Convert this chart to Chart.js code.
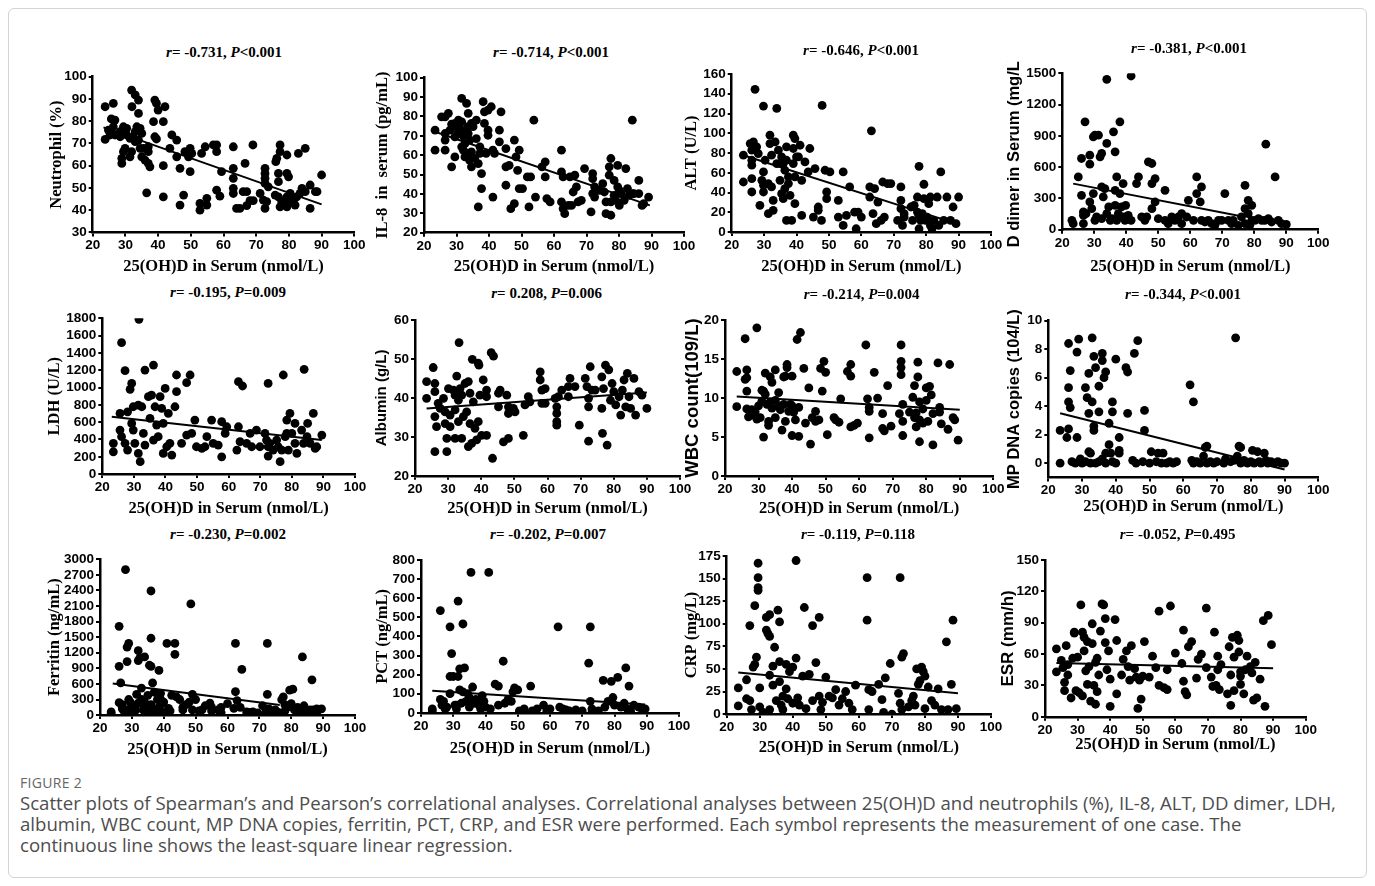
<!DOCTYPE html>
<html>
<head>
<meta charset="utf-8">
<script src="https://cdn.jsdelivr.net/npm/chart.js@4.4.0/dist/chart.umd.min.js"></script>
<style>
  body { margin: 0; background: #fff; width: 1375px; height: 886px; position: relative; overflow: hidden; }
  .frame { position: absolute; left: 8px; top: 8px; width: 1357px; height: 868px; border: 1px solid #d4d4d4; border-radius: 6px; }
  canvas { position: absolute; }
  .ttl { position: absolute; font: bold 15px "Liberation Serif", serif; color: #000; transform: translate(-50%, -50%); white-space: nowrap; }
  .figno { position: absolute; left: 20px; top: 773px; font: 14px "Open Sans", sans-serif; color: #666; letter-spacing: 0.3px; }
  .caption { position: absolute; left: 20px; top: 792px; font: 18.6px/21px "Open Sans", sans-serif; color: #4d4d4d; white-space: nowrap; }
</style>
</head>
<body>
<div class="frame"></div>
<div class="figno">FIGURE 2</div>
<div class="caption">Scatter plots of Spearman’s and Pearson’s correlational analyses. Correlational analyses between 25(OH)D and neutrophils (%), IL-8, ALT, DD dimer, LDH,<br>albumin, WBC count, MP DNA copies, ferritin, PCT, CRP, and ESR were performed. Each symbol represents the measurement of one case. The<br>continuous line shows the least-square linear regression.</div>
<script>
// shared x axis: 25(OH)D in serum
const xTicks = [20, 30, 40, 50, 60, 70, 80, 90, 100];
const xLabel = '25(OH)D in Serum (nmol/L)';

// ---- neutrophil (%) ----
const neutrophilTicks = [30, 40, 50, 60, 70, 80, 90, 100];
const neutrophilFit = [[23.3, 77.2], [90, 42.6]];
const neutrophilPts = [[23.8,86.5],[23.8,71.8],[26.3,88],[25.7,81],[26.8,80.5],[26.3,77.5],[24.8,76],[25.3,73.8],[26.8,73.8],[28.4,75.3],[29.4,77.5],[30.4,76.8],[28.4,73],[30.4,73.8],[31.4,72.3],[32.4,73],[33,75.3],[33.5,77.5],[34.5,76.8],[35,74.5],[33,70.8],[34,71.5],[28.9,63.3],[28.9,61],[29.9,67.8],[31.9,94],[33,91.8],[34,89.5],[32,86.5],[34,83.5],[31.9,66.3],[31.4,64],[34.5,67.8],[35.5,67.8],[35,64],[36,62.5],[37,61],[37.5,59.5],[37,66.3],[37,68.5],[29.4,66.3],[36.5,47.8],[39,89.5],[39.5,88],[40,85],[42.1,86.5],[38.6,79.8],[41.6,79.8],[39,73],[39.5,72],[41.6,60],[41.6,46],[44.2,73.8],[45.7,71.5],[43.6,67.8],[45.7,64],[46.7,58.8],[46.7,42.3],[47.8,46.8],[48.2,66.3],[49.3,64],[49.8,67.8],[50.3,65.5],[49.8,57.3],[52.8,43],[52.8,40],[54.9,42.3],[54.9,45.3],[53.3,65.5],[54.4,68.5],[56.9,69.3],[57.9,69.3],[57.9,66.3],[57.9,49],[58.9,46.3],[59.4,57.3],[63,68.5],[63,58.8],[63,54.3],[63,49.8],[63,47.5],[64,40.8],[65,40.8],[66,48.3],[67.1,48.3],[66.6,61],[67.1,42],[68.1,44.3],[69.1,44.3],[69,69.3],[72.7,58.8],[72.7,56.5],[72.7,54.3],[72.7,52],[71.2,47.5],[72.2,44.5],[73.2,43.8],[72.7,40.8],[73.7,50.5],[76,61.8],[76.3,63.3],[77.3,69.3],[77.3,66.3],[76.8,56.5],[76.8,52.8],[75.8,46.8],[76.8,46],[77.8,43.8],[77.3,41.5],[78.9,42.3],[79.4,64.8],[79.4,56.5],[79.9,55],[80.4,47.5],[79.4,46],[80.4,43.8],[79.4,41.5],[81.4,44.5],[82.4,46],[81.9,42.3],[83.4,47.5],[84,49.8],[85,48.3],[82.9,65.5],[85,67.8],[86.5,51.3],[86.5,40.8],[88.1,48.3],[88.6,48.3],[90,55.8]];

// ---- IL-8 (pg/mL) ----
const il8Ticks = [20, 30, 40, 50, 60, 70, 80, 90, 100];
const il8Fit = [[23.4, 72.1], [89.5, 34.1]];
const il8Pts = [[23.4,72.9],[23.4,62.6],[25.4,79.8],[26.5,79.8],[26.5,71.2],[26.5,67.8],[26.5,62.6],[27.5,81.6],[28,72.9],[28.5,54],[29.5,76.4],[30,74.7],[29.5,69.5],[29.5,59.1],[30.6,78.1],[31.6,89.3],[31.6,77.2],[31.6,72.9],[31.6,64.3],[32.6,66],[32.1,62.6],[32.6,59.1],[33.1,86.7],[33.6,81.6],[33.6,74.7],[33.6,71.2],[34.1,67.8],[34.6,76.4],[34.6,61.7],[34.6,54],[35.1,74.7],[35.6,58.3],[36.1,78.1],[36.1,68.6],[36.7,55.7],[36.7,33.3],[37.2,64.3],[37.2,60.9],[37.7,50.5],[37.7,42.8],[38.2,87.6],[38.6,82.4],[38.6,76.4],[39.1,60.9],[39.7,83.3],[39.7,72.9],[39.7,70.3],[40.7,85],[41.2,62.6],[41.2,38.4],[41.7,60.9],[43.2,72.9],[43.2,66.9],[43.7,82.4],[45.2,63.4],[45.2,54],[45.2,44.5],[46.2,54.8],[46.7,32.4],[47.8,67.8],[47.8,35],[48.3,59.1],[48.8,52.2],[49.3,62.6],[49.3,42.8],[50.3,42.8],[51.8,48.8],[52.3,33.3],[52.8,48.8],[53.8,78.1],[54.3,38.4],[56.3,54],[57.3,56.6],[57.3,48.8],[57.8,37.6],[58.8,35.9],[62.3,62.6],[62.3,51.4],[62.8,48.8],[62.3,35.9],[62.8,32.4],[63.3,29.8],[64.4,34.1],[64.9,48.8],[65.4,34.1],[65.9,41],[66.4,49.7],[66.9,43.6],[67.4,35.9],[68.4,36.7],[69.4,53.1],[71.4,30.7],[71.9,50.5],[71.9,47.9],[71.9,40.2],[72.5,38.4],[72.5,43.6],[73,41.9],[74,41.9],[75,45.3],[75.5,41],[76,35.9],[76,29.8],[77,54],[77.5,58.3],[77,49.7],[77.5,35.9],[77.5,29],[78.5,47],[78.5,39.3],[79,36.7],[79.6,54.8],[80.1,41.9],[80.1,34.1],[80.6,40.2],[81.6,36.7],[82.1,53.1],[82.6,42.8],[83.1,39.3],[84.1,78.1],[84.1,40.2],[84.6,40.2],[86.1,47],[86.1,40.2],[87.1,34.1],[87.6,35],[89.1,38.4],[79.6,43.6],[28.5,76],[30.5,71.5],[32,70],[33,61],[34,57.5]];

// ---- ALT (U/L) ----
const altTicks = [0, 20, 40, 60, 80, 100, 120, 140, 160];
const altFit = [[23.6, 77.8], [90, 7.8]];
const altPts = [[23.6,50.7],[23.6,77.8],[27.2,144.5],[25.7,89.6],[26.7,91.3],[26.2,82.9],[26.2,72.7],[26.2,67.7],[26.2,54.1],[26.2,40.6],[27.7,86.3],[28.2,79.5],[28.7,27.1],[29.3,52.4],[29.8,127.5],[29.8,60.9],[29.8,40.6],[29.8,47.4],[30.3,72.7],[31.3,49.1],[31.3,18.6],[31.8,98.1],[31.8,89.6],[32.3,77.8],[32.3,45.7],[32.8,22],[32.8,32.1],[33.4,91.3],[33.9,125.2],[33.9,69.3],[34.4,82.9],[34.9,52.4],[35.4,38.9],[35.4,76.1],[35.9,69.3],[35.9,33.8],[36.4,62.6],[36.4,44],[36.9,86.3],[36.9,72.7],[37.5,55.8],[37.5,49.1],[36.9,11.8],[38,37.2],[38.5,11.8],[39,98.1],[39.5,94.7],[39,84.6],[39,69.3],[40,76.1],[39.5,55.8],[39.5,28.8],[40.6,76.1],[41.1,87.9],[41.6,52.4],[41.6,16.9],[42.6,71],[43.6,60.9],[44.1,84.6],[45.2,15.2],[45.7,64.3],[46.7,25.4],[46.7,22],[47.7,11.8],[47.9,128.2],[48.8,62.6],[49.3,40.6],[49.3,33.8],[50.3,60.9],[52.9,32.1],[52.9,15.2],[54.4,60.9],[54.4,6.8],[55.4,16.9],[56.4,45.7],[57.9,20.3],[58.4,3.4],[59,20.3],[60,15.2],[62.6,35.5],[62.6,45.7],[63.1,102.5],[63.6,18.6],[64.1,44],[64.6,8.5],[65.1,30.4],[66.1,11.8],[66.6,50.7],[67.1,15.2],[68.1,49.1],[69.1,49.1],[71.2,11.8],[72.2,45.7],[72.2,32.1],[72.2,23.7],[72.7,6.8],[73.2,18.6],[73.2,15.2],[75.3,25.4],[75.8,11.8],[76.3,27.1],[77.3,20.3],[77.8,66.6],[77.3,35.5],[77.8,16.9],[77.8,3.4],[78.3,11.8],[78.8,18.6],[79.3,48.4],[79.3,33.8],[79.8,11.8],[80.3,15.2],[80.8,28.8],[81.3,35.5],[81.3,6.8],[81.8,3.4],[82.4,11.8],[83.4,35.5],[83.9,6.8],[84.5,60.9],[85.4,11.8],[86.4,35.5],[87.5,11.8],[88.3,25.4],[90,35.5],[89.2,8.5]];

// ---- D dimer (mg/L) ----
const ddTicks = [0, 300, 600, 900, 1200, 1500];
const ddFit = [[23.4, 442], [77.1, 122]];
const ddPts = [[23,90],[23.4,58],[25,506],[26,683],[27.1,1035],[26,330],[26.6,170],[26.6,138],[27.4,154],[26.6,58],[28.6,715],[28.6,628],[28.6,266],[29.2,202],[29.7,891],[30.2,907],[29.7,346],[30.2,90],[30.7,122],[31.3,907],[31.8,699],[32.3,731],[32.3,410],[32.3,106],[32.8,314],[33.3,394],[33.9,1442],[33.9,827],[33.9,154],[34.5,218],[35,90],[35.5,106],[36,939],[36.5,747],[36.5,234],[37,506],[36.5,378],[37,90],[37.5,154],[38,1035],[38,346],[38.5,218],[39,442],[39,122],[39.6,90],[39.8,234],[41.5,1474],[41.5,90],[40.6,138],[43.2,442],[43.8,506],[44.8,122],[45.8,90],[46.4,122],[46.9,651],[48,635],[48,442],[48,202],[49,266],[49,490],[50,106],[52.1,378],[52.1,90],[53.1,58],[54.2,122],[55.2,90],[56.3,122],[57.3,154],[57.3,58],[58.9,122],[59.4,282],[61,90],[62,506],[62,346],[63.1,266],[63.5,410],[63.5,90],[64.6,74],[65.6,90],[66.7,58],[67.7,42],[68.8,90],[69.8,90],[70.8,346],[71.9,90],[72.9,58],[73.4,90],[75,42],[76,122],[77.1,426],[77.1,202],[77.1,58],[78.1,282],[78.1,154],[78.6,42],[79.2,234],[79.2,90],[80.2,90],[81.3,106],[82.3,90],[83.3,90],[83.6,820],[84.4,106],[85.4,74],[86.5,506],[87.5,90],[88.5,58],[90,51]];

// ---- LDH (U/L) ----
const ldhTicks = [0, 200, 400, 600, 800, 1000, 1200, 1400, 1600, 1800];
const ldhFit = [[23, 663], [89.5, 393]];
const ldhPts = [[23.5,258],[23.5,355],[26.1,1518],[27.2,1195],[28.8,979],[29.3,1048],[25.6,701],[25.6,509],[26.1,432],[27.2,355],[28,277],[29.3,586],[29.8,509],[30.3,355],[31.6,1788],[31.4,798],[32.5,778],[31.4,239],[32,143],[33,470],[33.5,1202],[33.5,335],[34.6,894],[35.1,644],[35.6,913],[36.2,1260],[36.2,393],[36.7,778],[37.2,567],[37.7,432],[38.3,894],[38.8,759],[39.3,586],[39.3,239],[39.9,990],[40.4,316],[40.9,701],[41.4,355],[42,220],[43,778],[43.5,1145],[43.5,952],[45.1,355],[46.7,1056],[47.8,1145],[46.7,451],[48.3,470],[49.3,624],[49.8,316],[51.5,297],[52.5,316],[53.1,432],[54.6,624],[55.1,355],[56.7,335],[57.8,605],[57.8,200],[58.9,470],[59.4,547],[62.6,277],[63.1,547],[63.1,1068],[63.6,374],[64.4,1018],[65.7,355],[66.8,470],[67.3,316],[68.8,509],[69.9,316],[71.5,470],[72,393],[72.5,316],[72.5,208],[72.5,1048],[73,355],[74.1,277],[75.2,393],[75.7,316],[76.3,143],[76.8,277],[77.3,1145],[77.9,432],[78.4,470],[78.4,624],[78.9,277],[79.4,701],[80,470],[81,355],[81,586],[81.6,239],[83.1,509],[83.7,355],[83.9,1210],[84.8,432],[85,586],[85.8,355],[86.8,701],[87.4,297],[87.9,316],[89.5,451],[28,720],[29.8,778]];

// ---- Albumin (g/L) ----
const albTicks = [20, 30, 40, 50, 60];
const albFit = [[23.5, 37.3], [90, 41.4]];
const albPts = [[23.5,44.2],[23.5,39.9],[25.5,47.8],[26,43.7],[26,41.6],[26,35.2],[26.5,32.6],[26,26.2],[27,38.6],[27.6,37.3],[28.6,39.9],[29.1,36.4],[29.1,33.4],[29.6,29.6],[29.6,26.2],[30.1,42.4],[30.6,35.6],[30.6,32.6],[31.6,42],[32.1,40.7],[32.1,36.9],[32.1,29.6],[32.6,45.6],[33.1,39.4],[33.1,33.9],[33.3,54.2],[33.6,42.4],[34.1,40.7],[34.1,29.6],[34.6,35.2],[35.1,43.7],[35.6,36.4],[36.1,44.2],[36.1,27.5],[36.6,41.2],[36.6,33.4],[37.1,28.3],[37.3,49.9],[37.6,39],[38.1,32.2],[38.6,29.2],[39.1,48.9],[39.3,48.4],[39.1,33.9],[39.6,40.7],[40.1,30.4],[40.6,44.6],[41.6,30.4],[41.6,42],[41.6,40.3],[43,51.6],[43.7,50.7],[43.4,24.5],[45.2,37.7],[45.2,41.2],[45.7,42],[46.7,28.7],[47.7,40.7],[48.2,37.7],[48.2,36],[48.2,29.6],[49.7,37.3],[50.2,36.4],[52.7,30.4],[53.2,38.2],[54.2,40.3],[54.7,39],[57.8,46.7],[57.8,44.6],[58.3,42],[58.3,38.6],[59.3,42.4],[59.3,38.6],[62.3,39.9],[62.8,37.7],[62.8,36],[62.8,33.9],[62.8,33],[63.3,40.3],[64.3,42],[66.3,42.9],[66.8,45],[66.3,40.3],[68.3,42.9],[69.6,33],[71.4,45],[71.9,42.9],[72.4,39.9],[72.4,37.7],[72.4,28.9],[72.9,48],[73.4,42],[74.4,42],[76.4,45.4],[76.4,37.3],[76.9,42.4],[76.6,30.9],[77.5,48.4],[78,27.9],[78.5,47.2],[79,39.4],[79.5,43.7],[80,41.6],[80.6,38.2],[81.6,40.3],[82.1,35.6],[82.6,42],[83.1,44.6],[83.6,37.7],[84.1,46.3],[84.6,40.3],[85.1,37.3],[86.1,45],[86.6,35.6],[87.6,41.6],[88.5,40.7],[90,37.3]];

// ---- WBC count ----
const wbcTicks = [0, 5, 10, 15, 20];
const wbcFit = [[23.5, 10.2], [90, 8.5]];
const wbcPts = [[23.5,13.4],[23.5,8.9],[26,17.6],[26,12.4],[26.5,13.6],[26.5,12.6],[26.5,10.9],[26.5,8.6],[27,7.6],[28,8.5],[28.5,7.8],[29,8.2],[29.5,19],[29.5,7.3],[30,9],[30.5,7.5],[31,9.6],[31,11],[31.5,5],[31.5,10.9],[32,13.2],[32,10.5],[32.5,9.2],[33,7],[33,6.5],[33.5,12.7],[33.5,9.5],[34,12],[34,8.7],[35,13.6],[35,9.7],[35,7.5],[36,9],[36,10.7],[36.5,8.5],[37,5.9],[37.5,12.7],[37.5,9.2],[38,7],[38,12.8],[38.5,14.3],[38.5,13.9],[39,8.3],[39.5,9.2],[40,5.2],[40,12.8],[40,9],[40.5,8.2],[41,7.2],[41.5,17.5],[42,8.8],[42,5.1],[42.5,18.4],[43.5,13.8],[44,6.8],[45,11.3],[45.5,4.1],[46,7.5],[47,8.3],[47,7],[48,7.2],[48.5,13.8],[49,10.9],[49.5,14.7],[50,13.3],[50.5,5.3],[52.5,7.5],[53,7.2],[54,6.9],[54.5,9.9],[56.5,13.4],[57.5,12.8],[57.5,14.3],[57.5,6.3],[58.5,6.5],[59.5,6.8],[62,16.8],[62.5,9.9],[63,8.8],[63,8.3],[63,4.9],[64.5,13.3],[65.5,10],[67,8],[67,6.1],[67.5,5.8],[68.5,11.6],[69.5,6.4],[72,8],[72.5,16.8],[72.5,14.7],[72.5,13.9],[72.5,13],[73,9.2],[73,7],[73,5.2],[75,8.2],[76,10.1],[76.5,11.6],[76.5,7.5],[77,8.1],[77,6.3],[77.5,14.6],[77.5,12.7],[78,9.5],[78,7.2],[78,4.4],[79,8.6],[79,6.8],[80,11.3],[80,9.7],[80.5,7],[81,11.5],[81.5,10.4],[82,4],[82,8],[83.5,14.5],[84,8.8],[84,8.2],[84.5,6.7],[86.5,6],[87,14.3],[88,7.5],[88.5,7.2],[89.5,4.6]];

// ---- MP DNA copies ----
const mpTicks = [0, 2, 4, 6, 8, 10];
const mpFit = [[23.5, 3.5], [90, -0.45]];
const mpPts = [[23.5,2.3],[23.5,0],[25.5,1.8],[26,8.4],[26,5.3],[26,4.3],[26,2.4],[26.5,6.5],[26.5,3.9],[27,0.1],[28,0],[28.5,7.8],[28.5,1.8],[29,8.7],[29.5,0.3],[30,0],[31,5.3],[31,0.1],[31.5,4.6],[32,6.3],[32,3.5],[32,0.8],[32.5,0.7],[32.5,0],[33,8.8],[33,4.3],[33.5,7.5],[33.5,2.6],[33.5,2.3],[34,0],[34,6.7],[35,5.4],[35,3.6],[35,0.1],[36,7.2],[36,7.7],[36.5,6],[36,0.3],[37,6.4],[37,0.7],[37,0],[38,2.8],[38,1.3],[38.5,0.7],[39,4.3],[39,3.6],[39,0.1],[40,7.3],[40,0],[41,1.8],[41,0.9],[41,0.7],[43,6.7],[43.5,6.4],[43.5,3.5],[45,0.2],[45.5,7.7],[46,0],[46.5,8.6],[48,0.1],[48.5,3.7],[48.5,2.3],[50,0],[50.5,0.8],[52,0.1],[52.5,0.7],[53.5,0],[54,0.7],[55,0],[56,0.1],[57,0],[58,0.1],[62,5.5],[62.5,0.2],[63,4.3],[63,0],[64,0.1],[65,0],[66,0.5],[66.5,1.1],[67,1.2],[67,0],[68,0.1],[69,0],[70,0.1],[72,0],[72.5,0.3],[74,0.1],[75,0.2],[75.5,8.8],[76,0.5],[76.5,1.2],[77,1.1],[77,0],[78,0.2],[79,0],[80,0.1],[80.5,0.9],[81,0],[82,0.8],[82.5,0.1],[83,0],[84,0.7],[84.5,0.2],[85,0],[86,0.1],[87,0],[88,0.1],[89,0],[90,0]];

// ---- Ferritin (ng/mL) ----
const ferTicks = [0, 300, 600, 900, 1200, 1500, 1800, 2100, 2400, 2700, 3000];
const ferFit = [[24, 610], [76.4, 193]];
const ferPts = [[23.5,60],[23.5,30],[26,240],[26,1710],[26,940],[26.5,620],[27,200],[27,120],[27.5,80],[28,2800],[28.5,1310],[29,1380],[28.5,1030],[29,100],[29.5,250],[30,180],[30.5,60],[31,120],[31.5,400],[32,1240],[32,1050],[32.5,1100],[33,520],[33,300],[33.5,100],[34,1120],[34.5,180],[35,380],[35.5,960],[36,940],[36,2390],[36,1480],[36.5,620],[37,440],[37.5,60],[38,300],[38.5,860],[38.5,150],[39,420],[39.5,220],[40,50],[41,1380],[41.5,130],[43.5,1380],[43.5,1170],[42.5,380],[45,300],[46,100],[47,200],[48,250],[48.5,2140],[49,400],[50,300],[51,80],[52,100],[53,180],[54.5,230],[55,80],[57,100],[58,50],[60,220],[62.5,1380],[62.5,450],[63,280],[64.5,880],[66,60],[67,50],[69.5,40],[71,180],[72.5,1380],[72.5,400],[73,120],[74,80],[76,50],[77,300],[77.5,350],[78,200],[79,160],[79.5,480],[80.5,500],[81,100],[82,80],[83.5,1120],[84,180],[85,60],[86.5,680],[87,100],[88,50],[89.5,120],[27,150],[29,300],[30,50],[31,80],[32,230],[34,250],[35,60],[36,200],[37,100],[38,20],[39,310],[40,250],[42,80],[44,350],[46,150],[49,100],[55,150],[58,150],[62,130],[64,150],[68,60],[72,60],[75,100],[78,80],[80,220],[82,150],[84,60],[86,100],[88,120]];

// ---- PCT (ng/mL) ----
const pctTicks = [0, 100, 200, 300, 400, 500, 600, 700, 800];
const pctFit = [[23.5, 115], [89.5, 44]];
const pctPts = [[23.5,20],[23.5,10],[26,535],[26,70],[26.5,40],[27,60],[28,30],[29,450],[29.5,310],[29,190],[29,100],[30,190],[30.5,40],[31,20],[31.5,585],[31.5,190],[32,230],[32,120],[32.5,50],[33,465],[33,110],[33.5,235],[34,60],[34.5,100],[35,30],[35.5,735],[36,135],[36.5,50],[37,70],[38,40],[38.5,20],[39,90],[39.5,60],[40,30],[41,735],[41.5,20],[43,150],[44,140],[44,40],[45.5,270],[46,50],[47,70],[48.5,110],[49,130],[50,120],[50.5,10],[52,5],[54,140],[54.5,10],[56,20],[58,40],[59,10],[62.5,450],[63,30],[64,20],[66,10],[68,15],[70,10],[72,260],[72.5,450],[72.5,60],[73,20],[73,0],[76.5,170],[77,30],[78,60],[79,165],[79.5,80],[80,40],[81,185],[82,30],[83,50],[83.5,235],[84.5,140],[85,10],[86,40],[87.5,30],[88.5,20],[89.5,20],[38,60],[35,80],[31,40],[27.5,20],[48,60],[52,20],[60,20],[65,15],[75,10],[84,20]];

// ---- CRP (mg/L) ----
const crpTicks = [0, 25, 50, 75, 100, 125, 150, 175];
const crpFit = [[23.5, 46], [90, 23]];
const crpPts = [[23.5,29],[23.5,9],[26,38],[26,17],[27,98],[27,15],[27.5,5],[28,52],[28.5,55],[28.5,120],[29,63],[29.5,167],[29.5,151],[29.5,140],[29.5,137],[30,29],[30,8],[31,2],[32,107],[32,93],[32.5,89],[33,86],[33,110],[33,43],[33,5],[34,53],[34,32],[34.5,74],[35,15],[35.5,115],[36,102],[36,58],[36,36],[36.5,10],[37,20],[37,5],[38,55],[38,28],[38.5,17],[39,47],[40,52],[40,12],[41,170],[41,62],[41.5,18],[42,10],[43,42],[43.5,118],[44,6],[45,44],[46,98],[46,15],[47,57],[48,107],[48,20],[48.5,5],[49,13],[50,41],[51,20],[52,18],[53,27],[54,10],[55,17],[56,25],[57,12],[58,5],[59,32],[62.5,151],[62.5,104],[63,27],[63,5],[64,25],[66,33],[67,16],[67.5,2],[68,40],[69.5,56],[70,0],[72,23],[72.5,151],[72.5,12],[73,63],[73,5],[73.5,67],[75,8],[76,15],[76.5,20],[77,10],[77.5,50],[78,33],[78.5,37],[79,52],[79.5,47],[80,42],[80,6],[81,30],[82,15],[83,10],[84,28],[85,5],[86.5,80],[87,5],[88,33],[88.5,104],[89.5,6]];

// ---- ESR (mm/h) ----
const esrTicks = [0, 30, 60, 90, 120, 150];
const esrFit = [[23.5, 51.5], [90, 46.5]];
const esrPts = [[23.5,65],[23.5,43],[25,54],[25.5,47],[26,33],[26,25],[26.5,68],[27,50],[27,40],[28,18],[28.5,56],[29,81],[29,80],[29.5,25],[30,57],[30.5,23],[31,107],[31.5,81],[31.5,20],[32,76],[32,63],[32.5,44],[33,31],[33,72],[33.5,48],[34,15],[34.5,70],[34.5,89],[35,30],[35.5,52],[35.5,12],[36,56],[36,24],[36.5,40],[37,82],[37.5,108],[38,107],[38.5,94],[38.5,71],[39,45],[39.5,63],[40,10],[40,36],[41.5,93],[42,73],[42,22],[43.5,40],[44,55],[45,63],[45.5,48],[46,35],[46.5,68],[47.5,46],[48,38],[48.5,8],[49,35],[49.5,17],[50,39],[50.5,72],[52,38],[53,58],[54,47],[55,101],[55,30],[56.5,28],[57.5,26],[58.5,106],[57.5,45],[60,61],[62,51],[62.5,83],[62.5,34],[63,24],[63.5,21],[64,67],[65,72],[66.5,37],[67,55],[68,60],[69.5,104],[69.5,47],[71,38],[71.5,29],[72,81],[72.5,30],[73,58],[73,45],[73.5,26],[74,50],[76,22],[76.5,67],[77,11],[77.5,76],[77,40],[78,57],[78,25],[79,78],[79.5,73],[79.5,62],[80,39],[80,31],[80,43],[81,22],[81.5,45],[82,58],[83,48],[83.5,42],[84,16],[84.5,52],[85,18],[86,36],[87,92],[87.5,10],[88.5,97],[89.5,69]];

const SERIF = 'Liberation Serif';
const SANS = 'Liberation Sans';

// layout: pixel positions of x=20 / x=100 (L,R), y max / y min (T,B), title centres
const panels = [
  { pts: neutrophilPts, fit: neutrophilFit, yt: neutrophilTicks, ylab: 'Neutrophil (%)', yf: SERIF, ys: 16.5, r: '-0.731', p: '<0.001',
    L: 92.7, R: 354.3, T: 76.7, B: 232, ytx: 56.7, xty: 266.7, tx: 224, ty: 51.7 },
  { pts: il8Pts, fit: il8Fit, yt: il8Ticks, ylab: 'IL-8  in  serum (pg/mL)', yf: SERIF, ys: 16.5, r: '-0.714', p: '<0.001',
    L: 424, R: 684, T: 77.7, B: 232.3, ytx: 383, xty: 266.7, tx: 551, ty: 51.7 },
  { pts: altPts, fit: altFit, yt: altTicks, ylab: 'ALT (U/L)', yf: SERIF, ys: 16.5, r: '-0.646', p: '<0.001',
    L: 731.7, R: 991, T: 74, B: 231.7, ytx: 692, xty: 266.7, tx: 861, ty: 50 },
  { pts: ddPts, fit: ddFit, yt: ddTicks, ylab: 'D dimer in Serum (mg/L)', yf: SANS, ys: 16.5, r: '-0.381', p: '<0.001',
    L: 1062.3, R: 1318.3, T: 73.3, B: 229.3, ytx: 1015, xty: 266.7, tx: 1189, ty: 48 },
  { pts: ldhPts, fit: ldhFit, yt: ldhTicks, ylab: 'LDH (U/L)', yf: SERIF, ys: 16.5, r: '-0.195', p: '=0.009',
    L: 102.3, R: 355, T: 318.3, B: 474, ytx: 55, xty: 509, tx: 228, ty: 291.7 },
  { pts: albPts, fit: albFit, yt: albTicks, ylab: 'Albumin (g/L)', yf: SANS, ys: 15, r: '0.208', p: '=0.006',
    L: 415, R: 680, T: 320, B: 475.7, ytx: 381.7, xty: 509, tx: 546.7, ty: 293.3 },
  { pts: wbcPts, fit: wbcFit, yt: wbcTicks, ylab: 'WBC count(109/L)', yf: SANS, ys: 18.5, r: '-0.214', p: '=0.004',
    L: 725, R: 993.3, T: 320, B: 476, ytx: 693, xty: 509, tx: 861.7, ty: 294 },
  { pts: mpPts, fit: mpFit, yt: mpTicks, ymin: -1, ylab: 'MP DNA copies (104/L)', yf: SANS, ys: 16.5, r: '-0.344', p: '<0.001',
    L: 1048.3, R: 1318.3, T: 320.7, B: 477.3, ytx: 1015, xty: 507, tx: 1183, ty: 294 },
  { pts: ferPts, fit: ferFit, yt: ferTicks, ylab: 'Ferritin (ng/mL)', yf: SERIF, ys: 16.5, r: '-0.230', p: '=0.002',
    L: 100, R: 355, T: 559.3, B: 715, ytx: 55, xty: 750, tx: 228, ty: 534 },
  { pts: pctPts, fit: pctFit, yt: pctTicks, ylab: 'PCT (ng/mL)', yf: SERIF, ys: 16.5, r: '-0.202', p: '=0.007',
    L: 421, R: 679, T: 560, B: 712.7, ytx: 383, xty: 749, tx: 548, ty: 534 },
  { pts: crpPts, fit: crpFit, yt: crpTicks, ylab: 'CRP (mg/L)', yf: SERIF, ys: 16.5, r: '-0.119', p: '=0.118',
    L: 726.7, R: 991, T: 556, B: 714, ytx: 692, xty: 748, tx: 858, ty: 534 },
  { pts: esrPts, fit: esrFit, yt: esrTicks, ylab: 'ESR (mm/h)', yf: SANS, ys: 17, r: '-0.052', p: '=0.495',
    L: 1045, R: 1305.7, T: 560, B: 716.7, ytx: 1008, xty: 745, tx: 1177.7, ty: 534 }
];

const tickFont = { family: SANS, weight: 'bold', size: 13.5 };
const XS = 16.5; // x title size

function makePanel(p) {
  const left = Math.round(p.ytx - 0.6 * p.ys);
  const top = Math.round(p.T - 12);
  const yW = p.L - left;
  const padTop = p.T - top;
  const xH = p.xty + 0.6 * XS - p.B;
  const w = Math.round(p.R - left + 18);
  const h = Math.round(p.B - top + xH);
  const padR = w - (p.R - left);

  const cv = document.createElement('canvas');
  cv.width = w; cv.height = h;
  cv.style.left = left + 'px'; cv.style.top = top + 'px';
  document.body.appendChild(cv);

  const t = document.createElement('div');
  t.className = 'ttl';
  t.style.left = p.tx + 'px'; t.style.top = p.ty + 'px';
  t.innerHTML = '<i>r</i>= ' + p.r + ', <i>P</i>' + p.p.replace('<', '&lt;');
  document.body.appendChild(t);

  const axisBase = {
    type: 'linear',
    grid: { drawOnChartArea: false, drawTicks: true, tickLength: 4, color: '#000', lineWidth: 2 },
    border: { color: '#000', width: 2.5 },
  };

  new Chart(cv, {
    type: 'scatter',
    data: {
      datasets: [
        { data: p.pts.map(d => ({ x: d[0], y: d[1] })), backgroundColor: '#000', borderWidth: 0, pointRadius: 4.4, pointHoverRadius: 4.4 },
        { data: p.fit.map(d => ({ x: d[0], y: d[1] })), showLine: true, borderColor: '#000', borderWidth: 2, pointRadius: 0, fill: false }
      ]
    },
    options: {
      responsive: false,
      animation: false,
      events: [],
      layout: { padding: { top: padTop, right: padR, left: 0, bottom: 0 } },
      plugins: { legend: { display: false }, tooltip: { enabled: false } },
      scales: {
        x: Object.assign({}, axisBase, {
          min: 20, max: 100,
          afterBuildTicks: s => { s.ticks = xTicks.map(v => ({ value: v })); },
          afterFit: s => { s.height = xH; },
          ticks: { font: tickFont, color: '#000', padding: 1, autoSkip: false, maxRotation: 0, callback: v => String(v) },
          title: { display: true, text: xLabel, color: '#000', padding: 0, font: { family: SERIF, weight: 'bold', size: XS } }
        }),
        y: Object.assign({}, axisBase, {
          min: p.ymin !== undefined ? p.ymin : p.yt[0], max: p.yt[p.yt.length - 1],
          afterBuildTicks: s => { s.ticks = p.yt.map(v => ({ value: v })); },
          afterFit: s => { s.width = yW; },
          ticks: { font: tickFont, color: '#000', padding: 2, autoSkip: false, callback: v => String(v) },
          title: { display: true, text: p.ylab, color: '#000', padding: 0, font: { family: p.yf, weight: 'bold', size: p.ys } }
        })
      }
    }
  });
}

panels.forEach(makePanel);
</script>
</body>
</html>
